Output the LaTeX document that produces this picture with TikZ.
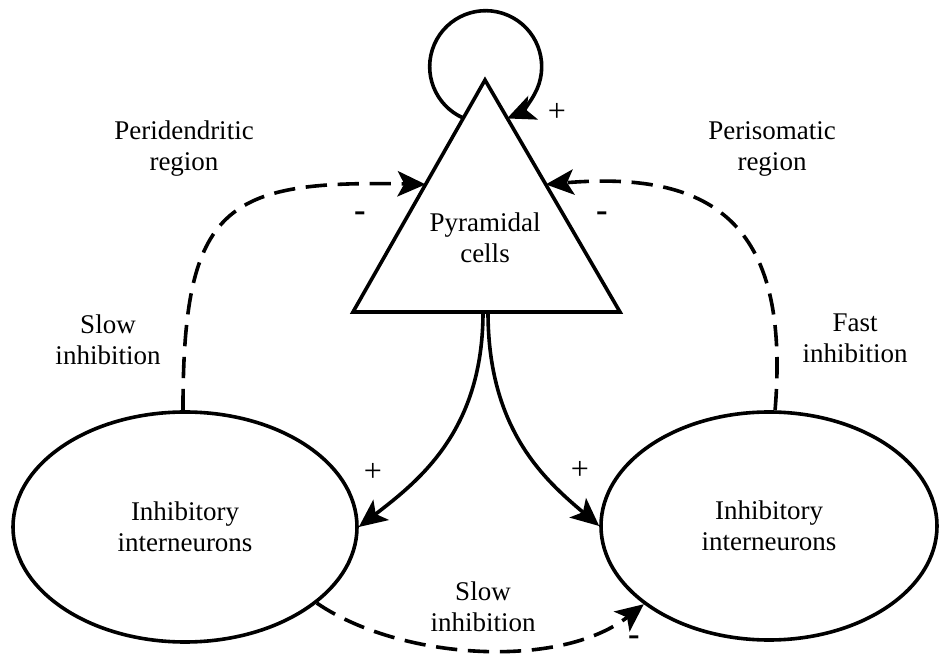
\documentclass[tikz,border=0pt]{standalone}
\usepackage{fontspec}
\setmainfont{Liberation Serif}
\usetikzlibrary{arrows.meta,shapes.geometric,calc}
\begin{document}
\begin{tikzpicture}[x=0.75pt,y=-0.75pt,
  line width=2.7pt,
  lbl/.style={font=\fontsize{20.25}{23.25}\selectfont, align=center, inner sep=0pt},
  sgn/.style={font=\fontsize{24}{26}\selectfont, inner sep=0pt},
  msgn/.style={font=\fontsize{26}{28}\selectfont\bfseries, inner sep=0pt},
  popn/.style={draw, ellipse, align=center, inner sep=0pt, font=\fontsize{20.25}{23.25}\selectfont},
  conn/.style={-{Stealth[length=21pt,width=19pt,inset=5pt]}},
  dsh/.style={conn, dash pattern=on 16pt off 8pt},
]
\useasboundingbox (0,0) rectangle (939,655);
% pyramidal cells
\coordinate (A) at (485,80);
\coordinate (BL) at (353,312);
\coordinate (BR) at (620,312);
\draw[line join=miter] (A) -- (BR) -- (BL) -- cycle;
\node[lbl] (pyr) at (485,238) {Pyramidal\\cells};
% interneurons
\node[popn, minimum width=258pt, minimum height=172.5pt] (L) at (185,527) {Inhibitory\\interneurons};
\node[popn, minimum width=252pt, minimum height=171pt] (R) at (769,526) {Inhibitory\\interneurons};
% connector end points on the triangle
\coordinate (tl) at ($(A)!0.45!(BL)$);
\coordinate (tr) at ($(A)!0.45!(BR)$);
\coordinate (ls) at ($(A)!0.164!(BL)$);
\coordinate (b1) at (483,312);
\coordinate (b2) at (488,312);
% self loop
\draw[conn] (ls) arc[start angle=113.5, end angle=427.6, radius=56];
% dashed inhibitory feedback
\draw[dsh] (L.91) .. controls (183,205) and (225,180) .. (tl);
\draw[dsh] (R.87) .. controls (790,230) and (720,170) .. (tr);
\draw[dsh] (L.-30) .. controls (400,660) and (560,670) .. (R.212);
% excitatory projections
\draw[conn] (b1) .. controls (483,430) and (420,480) .. (L.east);
\draw[conn] (b2) .. controls (488,430) and (545,480) .. (R.west);
% labels
\node[lbl] (t1) at (184,149) {Peridendritic\\region};
\node[lbl] (t2) at (772,149) {Perisomatic\\region};
\node[lbl] (t3) at (108,340) {Slow\\inhibition};
\node[lbl] (t4) at (855,338) {Fast\\inhibition};
\node[lbl] (t5) at (483,607) {Slow\\inhibition};
\node[sgn] (p1) at (557,112) {+};
\node[sgn] (p2) at (373,472) {+};
\node[sgn] (p3) at (580,470) {+};
\node[msgn] (m1) at (360,217) {-};
\node[msgn] (m2) at (602,217) {-};
\node[msgn] (m3) at (634,641) {-};
\end{tikzpicture}
\end{document}
